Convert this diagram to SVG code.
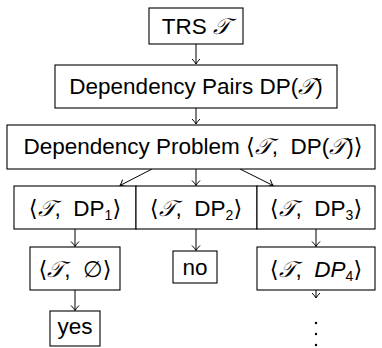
<svg xmlns="http://www.w3.org/2000/svg" width="382" height="348" viewBox="0 0 382 348">
<style>
.box{fill:#fff;stroke:#000;stroke-width:1.1}
.t{font-family:"Liberation Sans","DejaVu Sans",sans-serif;font-size:22.5px;fill:#000;text-anchor:middle;white-space:pre}
.m{font-family:"DejaVu Serif","Liberation Serif",serif;font-style:italic}
.i{font-style:italic}
.c{stroke:#000;stroke-width:1;fill:none}
.s{font-size:14px}
</style>
<defs>
<marker id="ah" viewBox="-6 -5 8 10" markerWidth="8" markerHeight="10" refX="0" refY="0" orient="auto" markerUnits="userSpaceOnUse">
<path d="M-5,-4 Q-2,-1 0,0 Q-2,1 -5,4" fill="none" stroke="#000" stroke-width="1"/>
</marker>
</defs>
<rect width="382" height="348" fill="#fff"/>
<g id="connectors">
<line class="c" x1="196" y1="44" x2="196" y2="64" marker-end="url(#ah)"/>
<line class="c" x1="196" y1="108" x2="196" y2="124" marker-end="url(#ah)"/>
<line class="c" x1="152" y1="169" x2="120" y2="185.5" marker-end="url(#ah)"/>
<line class="c" x1="196" y1="169" x2="196" y2="185.5" marker-end="url(#ah)"/>
<line class="c" x1="240" y1="169" x2="273" y2="185.5" marker-end="url(#ah)"/>
<line class="c" x1="75" y1="229" x2="75" y2="246.5" marker-end="url(#ah)"/>
<line class="c" x1="196" y1="229" x2="196" y2="250.5" marker-end="url(#ah)"/>
<line class="c" x1="316" y1="229" x2="316" y2="246.5" marker-end="url(#ah)"/>
<line class="c" x1="75" y1="290" x2="75" y2="310.5" marker-end="url(#ah)"/>
<line class="c" x1="316" y1="290" x2="316" y2="298" marker-end="url(#ah)"/>
</g>
<g id="trs">
<rect class="box" x="149" y="8" width="94" height="36"/>
<text class="t" x="196" y="34">TRS <tspan class="m">𝒯</tspan></text>
</g>
<g id="dp">
<rect class="box" x="55" y="65" width="282" height="43"/>
<text class="t" x="196" y="94">Dependency Pairs DP(<tspan class="m">𝒯</tspan>)</text>
</g>
<g id="problem">
<rect class="box" x="7" y="125" width="368" height="44"/>
<text class="t" x="193" y="154">Dependency Problem ⟨<tspan class="m">𝒯</tspan>,  DP(<tspan class="m">𝒯</tspan>)⟩</text>
</g>
<g id="dp1">
<rect class="box" x="14" y="186" width="122" height="43"/>
<text class="t" x="75" y="216">⟨<tspan class="m">𝒯</tspan>,  DP<tspan class="s" dy="4">1</tspan><tspan dy="-4">⟩</tspan></text>
</g>
<g id="dp2">
<rect class="box" x="136" y="186" width="121" height="43"/>
<text class="t" x="196" y="216">⟨<tspan class="m">𝒯</tspan>,  DP<tspan class="s" dy="4">2</tspan><tspan dy="-4">⟩</tspan></text>
</g>
<g id="dp3">
<rect class="box" x="257" y="186" width="118" height="43"/>
<text class="t" x="316" y="216">⟨<tspan class="m">𝒯</tspan>,  DP<tspan class="s" dy="4">3</tspan><tspan dy="-4">⟩</tspan></text>
</g>
<g id="empty">
<rect class="box" x="30" y="247" width="90" height="43"/>
<text class="t" x="75" y="277">⟨<tspan class="m">𝒯</tspan>,  ∅⟩</text>
</g>
<g id="no">
<rect class="box" x="173" y="251" width="44" height="32"/>
<text class="t" x="195" y="275">no</text>
</g>
<g id="dp4">
<rect class="box" x="257" y="247" width="118" height="43"/>
<text class="t" x="316" y="277">⟨<tspan class="m">𝒯</tspan>,  <tspan class="i">DP</tspan><tspan class="s" dy="4">4</tspan><tspan dy="-4">⟩</tspan></text>
</g>
<g id="yes">
<rect class="box" x="50" y="311" width="50" height="35"/>
<text class="t" x="75" y="334">yes</text>
</g>
<g id="dots">
<circle cx="316" cy="323" r="1.2"/>
<circle cx="316" cy="334" r="1.2"/>
<circle cx="316" cy="345" r="1.2"/>
</g>
</svg>
